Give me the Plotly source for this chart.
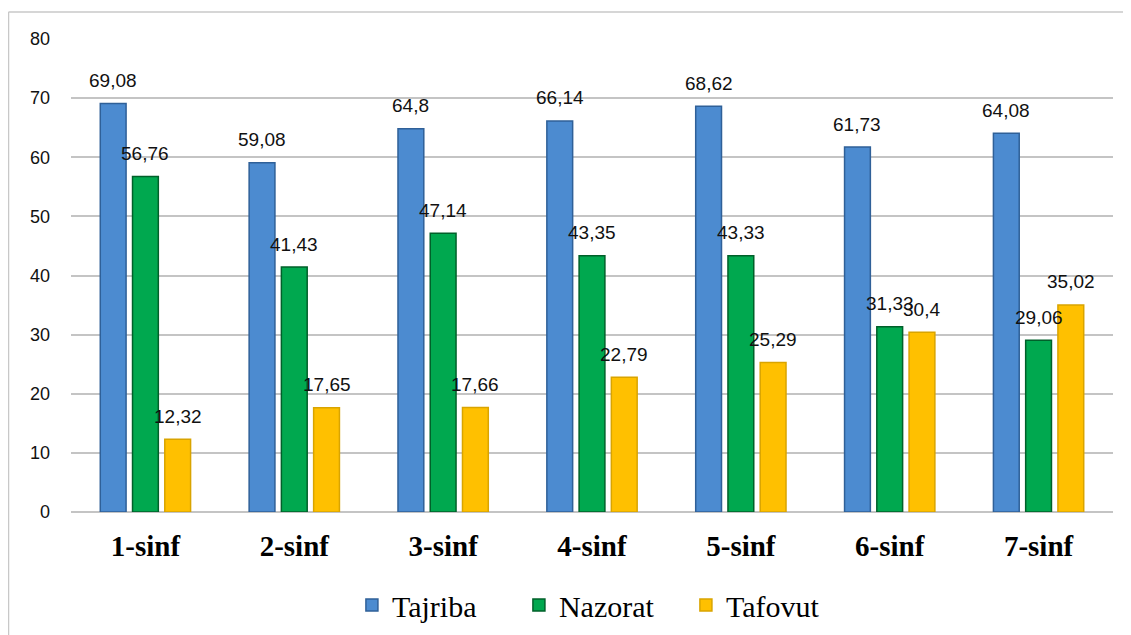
import plotly.graph_objects as go

categories = ["1-sinf", "2-sinf", "3-sinf", "4-sinf", "5-sinf", "6-sinf", "7-sinf"]
tajriba = [69.08, 59.08, 64.8, 66.14, 68.62, 61.73, 64.08]
nazorat = [56.76, 41.43, 47.14, 43.35, 43.33, 31.33, 29.06]
tafovut = [12.32, 17.65, 17.66, 22.79, 25.29, 30.4, 35.02]
series_names = ["Tajriba", "Nazorat", "Tafovut"]
y_ticks = [0, 10, 20, 30, 40, 50, 60, 70, 80]

# page body adds an 8px offset; coordinates below are in figure pixels
W, H = 1131, 635
OFF = 8
ML, MR, MT, MB = 71 - OFF, 26, 39 - OFF, 131
BARGAP, BARGROUPGAP = 0.35, 0.2
fills = ["#4C8BD0", "#00A84F", "#FFC000"]
edges = ["#2F6098", "#00602A", "#D9A400"]
SERIF = "Liberation Serif, Times New Roman, DejaVu Serif, serif"

def fmt(v):
    return ("%g" % v).replace(".", ",")

fig = go.Figure()
all_series = [tajriba, nazorat, tafovut]
for name, vals, fc, ec in zip(series_names, all_series, fills, edges):
    fig.add_trace(go.Bar(
        x=categories, y=vals, name=name,
        marker=dict(color=fc, line=dict(color=ec, width=1.5)),
        hoverinfo="x+y",
    ))

plot_w = W - ML - MR
cat_w = plot_w / len(categories)
slot = (1 - BARGAP) * cat_w / len(all_series)

annotations = []
for i, vals in enumerate(all_series):
    off = (i - (len(all_series) - 1) / 2) * slot
    for c, v in zip(categories, vals):
        annotations.append(dict(
            x=c, y=v, xref="x", yref="y", text=fmt(v), showarrow=False,
            xshift=off, yshift=23, yanchor="middle", xanchor="center",
            font=dict(family="Liberation Sans", size=19, color="#111111"),
        ))

plot_h = H - MT - MB
def px_x(p):
    return (p - OFF - ML) / plot_w
def px_y(p):
    return (H - MB - (p - OFF)) / plot_h

shapes = [
    dict(type="line", xref="paper", yref="paper", x0=px_x(8.5), x1=px_x(8.5),
         y0=px_y(650), y1=px_y(12), line=dict(color="#C8C8C8", width=1.5)),
    dict(type="line", xref="paper", yref="paper", x0=px_x(8.5), x1=px_x(1140),
         y0=px_y(12), y1=px_y(12), line=dict(color="#C8C8C8", width=1.5)),
]

fig.update_layout(
    width=W, height=H,
    font=dict(family=SERIF, color="#000000"),
    margin=dict(l=ML, r=MR, t=MT, b=MB, autoexpand=False),
    paper_bgcolor="white", plot_bgcolor="white",
    barmode="group", bargap=BARGAP, bargroupgap=BARGROUPGAP,
    annotations=annotations, shapes=shapes,
    xaxis=dict(
        tickfont=dict(family=SERIF, size=29, color="#000000"),
        ticklabelstandoff=14, showgrid=False, showline=False, ticks="",
    ),
    yaxis=dict(
        range=[0, 80], tickvals=y_ticks,
        tickfont=dict(family="Liberation Sans", size=18, color="#111111"),
        showgrid=True, gridcolor="#C4C4C4", gridwidth=1.5,
        zeroline=True, zerolinecolor="#C4C4C4", zerolinewidth=1.5,
        showline=False, ticks="", ticklabelstandoff=20,
    ),
    legend=dict(
        orientation="h", x=0.51, xanchor="center", y=px_y(605), yanchor="middle",
        font=dict(family=SERIF, size=30, color="#000000"),
        itemwidth=30, entrywidth=122, entrywidthmode="pixels",
    ),
    showlegend=True,
)
fig.update_xaxes(tickprefix="<b>", ticksuffix="</b>")

fig.write_html("out.html")
